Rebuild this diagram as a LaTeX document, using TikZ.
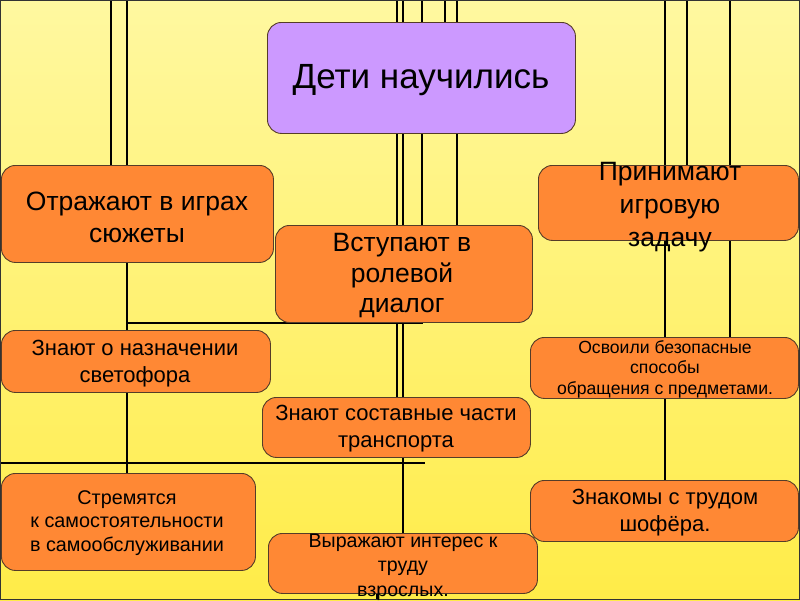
\documentclass[tikz,border=0pt]{standalone}
\usepackage{fontspec}
\setmainfont{Liberation Sans}
\usetikzlibrary{backgrounds}
\definecolor{bgtop}{RGB}{255,248,160}
\definecolor{bgbot}{RGB}{255,236,72}
\definecolor{orng}{RGB}{255,136,52}
\definecolor{purp}{RGB}{204,153,255}
\definecolor{boxline}{RGB}{85,60,40}
\newcommand\myfs[2]{\fontsize{#1}{#2}\selectfont}
\begin{document}
\begin{tikzpicture}[x=1pt,y=-1pt,
  box/.style={draw=boxline, line width=0.9pt, rounded corners=14pt, inner sep=0pt, anchor=north west},
  obox/.style={box, fill=orng},
  pbox/.style={box, fill=purp},
  txt/.style={align=center, inner sep=0pt, text=black},
  ln/.style={line width=1.6pt, draw=black}]
\useasboundingbox (0,0) rectangle (800,600);
% boxes
\node[pbox, minimum width=308pt, minimum height=111pt] (deti) at (267,22) {};
\node[obox, minimum width=272pt, minimum height=97pt] (ref) at (1,165) {};
\node[obox, minimum width=257pt, minimum height=97pt] (vst) at (275,225) {};
\node[obox, minimum width=260pt, minimum height=75pt] (prin) at (538,165) {};
\node[obox, minimum width=269pt, minimum height=62pt] (svet) at (1,330) {};
\node[obox, minimum width=268pt, minimum height=61pt] (osv) at (530,337) {};
\node[obox, minimum width=268pt, minimum height=60pt] (sost) at (262,397) {};
\node[obox, minimum width=254pt, minimum height=97pt] (str) at (1,473) {};
\node[obox, minimum width=269pt, minimum height=60pt] (vyr) at (268,533) {};
\node[obox, minimum width=268pt, minimum height=61pt] (znak) at (530,480) {};
% texts
\node[txt, font=\myfs{35}{40}] (detiT) at (421,80) {Дети научились};
\node[txt, font=\myfs{26.5}{32}] (refT) at (137,217) {Отражают в играх\\сюжеты};
\node[txt, font=\myfs{26.5}{30.5}] (vstT) at (402,276) {Вступают в\\ролевой\\диалог};
\node[txt, font=\myfs{26.5}{33}] (prinT) at (670,207) {Принимают\\игровую\\задачу};
\node[txt, font=\myfs{22}{27}] (svetT) at (135,364) {Знают о назначении\\светофора};
\node[txt, font=\myfs{17.6}{20.5}] (osvT) at (665,369) {Освоили безопасные\\способы\\обращения с предметами.};
\node[txt, font=\myfs{22}{27}] (sostT) at (396,429) {Знают составные части\\транспорта};
\node[txt, font=\myfs{19.8}{23.5}] (strT) at (127,523) {Стремятся\\к самостоятельности\\в самообслуживании};
\node[txt, font=\myfs{19.6}{24.5}] (vyrT) at (403,567) {Выражают интерес к\\труду\\взрослых.};
\node[txt, font=\myfs{22}{27}] (znakT) at (665,513) {Знакомы с трудом\\шофёра.};
\begin{pgfonlayer}{background}
\shade[top color=bgtop, bottom color=bgbot] (0,0) rectangle (800,600);
\draw[ln] (111,0) -- (111,0 |- ref.north);
\draw[ln] (127,0) -- (127,0 |- str.north);
\draw[ln] (397,0) -- (397,0 |- sost.north);
\draw[ln, line width=2.4pt] (403,0) -- (403,0 |- vyr.north);
\draw[ln] (377,0 |- vyr.south) -- (377,600);
\draw[ln] (422,0) -- (422,0 |- vst.north);
\draw[ln] (445,0) -- (445,0 |- deti.north);
\draw[ln] (457,0) -- (457,0 |- vst.north);
\draw[ln] (665,0) -- (665,0 |- znak.north);
\draw[ln] (687,0) -- (687,0 |- prin.north);
\draw[ln] (730,0) -- (730,0 |- osv.north);
\draw[ln] (127,323) -- (423,323);
\draw[ln] (0,463) -- (425,463);
\draw[line width=1.4pt, draw=black!80] (0.7,0.7) rectangle (799.3,599.3);
\end{pgfonlayer}
\end{tikzpicture}
\end{document}
